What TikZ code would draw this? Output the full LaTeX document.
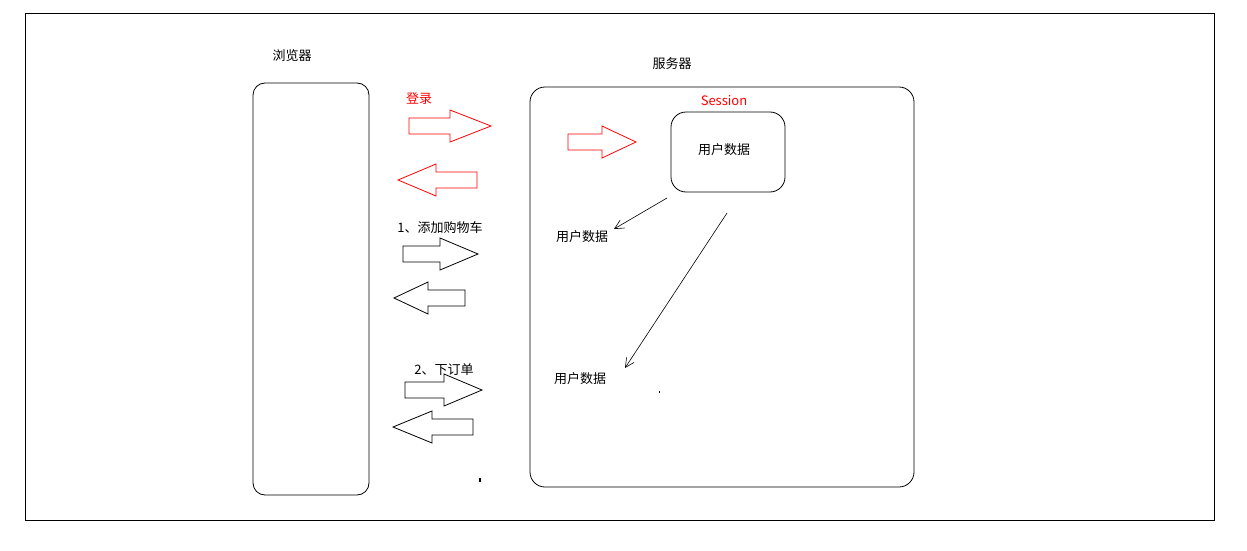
\documentclass[tikz,border=0pt]{standalone}
\usepackage{fontspec}
\setmainfont{Noto Sans CJK SC}
\usetikzlibrary{arrows.meta}
\begin{document}
\begin{tikzpicture}[x=1pt,y=-1pt,
  box/.style={draw,rounded corners=12pt,line width=0.8pt},
  lbl/.style={font=\fontsize{13}{15}\selectfont,inner sep=0pt},
  red lbl/.style={lbl,text=red},
  thin arrow/.style={-{Straight Barb[length=9pt,width=9pt]},line width=0.6pt}]
\useasboundingbox (0,0) rectangle (1247,551);
\fill[white] (0,0) rectangle (1247,551);
\draw[line width=0.8pt] (25,13) rectangle (1214,520);
\node[box,minimum width=116pt,minimum height=412pt] (browser) at (311,289) {};
\node[box,minimum width=384pt,minimum height=400pt,rounded corners=15pt] (server) at (722,287) {};
\node[box,minimum width=114pt,minimum height=80pt,rounded corners=15pt] (session) at (728,152) {};
\node[lbl] (bl) at (292,56) {浏览器};
\node[lbl] (sl) at (672,64) {服务器};
\node[red lbl] (login) at (419,99) {登录};
\node[red lbl] (sess) at (724,101) {Session};
\node[lbl] (ud0) at (724,150) {用户数据};
\node[lbl] (cart) at (440,228) {1、添加购物车};
\node[lbl] (ud1) at (582,237) {用户数据};
\node[lbl] (order) at (444,370) {2、下订单};
\node[lbl] (ud2) at (580,379) {用户数据};
\newcommand{\barrow}[5]{\draw[#5,line width=0.8pt] (#1,#4-8) -- (#2,#4-8) -- (#2,#4-16) -- (#3,#4) -- (#2,#4+16) -- (#2,#4+8) -- (#1,#4+8) -- cycle;}
\barrow{409}{450}{491}{126}{red}
\barrow{477}{436}{398}{180}{red}
\barrow{568}{602}{636}{142}{red}
\barrow{403}{440}{478}{254}{black}
\barrow{465}{428}{394}{298}{black}
\barrow{405}{444}{482}{390}{black}
\barrow{473}{432}{393}{427}{black}
\coordinate (a1) at (667,198);
\coordinate (a2) at (727,213);
\coordinate (e1) at (614,229);
\coordinate (e2) at (625,368);
\draw[thin arrow] (a1) -- (e1);
\draw[thin arrow] (a2) -- (e2);
\fill (479,478) rectangle (481,482);
\fill (659,391) rectangle (660,393);
\end{tikzpicture}
\end{document}
